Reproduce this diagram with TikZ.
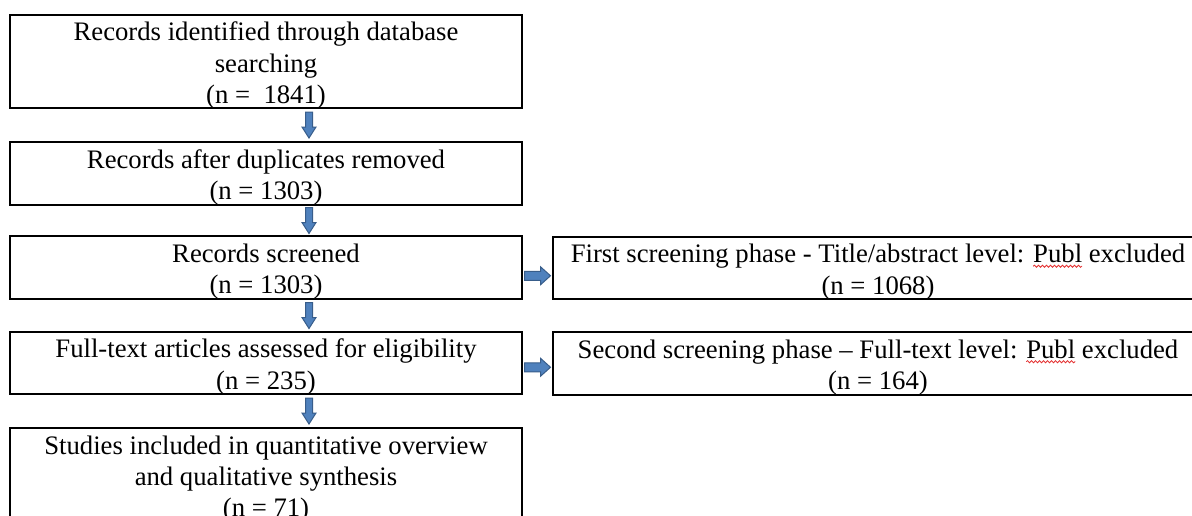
\documentclass[tikz,border=0pt]{standalone}
\usepackage{fontspec}
\setmainfont{Liberation Serif}
\usetikzlibrary{calc,decorations.pathmorphing}

\definecolor{arrowfill}{RGB}{79,129,189}
\definecolor{arrowline}{RGB}{56,93,138}
\definecolor{spellred}{RGB}{228,48,48}

% word with a red wavy spell-check underline
\newcommand\spellmark[1]{\tikz[baseline=(sw.base)]{%
  \node[rectangle,draw=none,fill=none,minimum width=0pt,minimum height=0pt,
        inner sep=0pt,outer sep=0pt] (sw) {#1};
  \draw[overlay,spellred,line width=0.4pt,decorate,
        decoration={snake,amplitude=0.55pt,segment length=2pt}]
        ([yshift=-1.7pt]sw.base west) -- ([yshift=-1.7pt]sw.base east);}}

\begin{document}
\begin{tikzpicture}[x=0.5pt,y=-0.5pt,
  box/.style={draw=black,line width=0.7pt,rectangle,inner sep=0pt},
  leftbox/.style={box,minimum width=256pt},
  rightbox/.style={box,minimum width=325pt},
  txt/.style={inner sep=0pt,align=center,font=\fontsize{13.35}{15.6}\selectfont},
  blockarrow/.style={fill=arrowfill,draw=arrowline,line width=0.5pt,line join=miter},
  darr/.pic={\draw[blockarrow] (-13,-3.5) -- (2,-3.5) -- (2,-7) -- (13,0) -- (2,7) -- (2,3.5) -- (-13,3.5) -- cycle;},
  rarr/.pic={\draw[blockarrow] (-13,-4.5) -- (3,-4.5) -- (3,-9) -- (13,0) -- (3,9) -- (3,4.5) -- (-13,4.5) -- cycle;}
]
\useasboundingbox (0,0) rectangle (1192,515);
\fill[white] (0,0) rectangle (1192,515);

% main column boxes
\node[leftbox,minimum height=46.5pt] (b1) at (266,61.5) {};
\node[leftbox,minimum height=31.5pt] (b2) at (266,173.5) {};
\node[leftbox,minimum height=31.5pt] (b3) at (266,267.5) {};
\node[leftbox,minimum height=31pt]   (b4) at (266,363) {};
\node[leftbox,minimum height=47pt]   (b5) at (266,475) {};

% exclusion column boxes
\node[rightbox,minimum height=31pt]   (r1) at (878,268) {};
\node[rightbox,minimum height=31.5pt] (r2) at (878,363.5) {};

% box texts
\node[txt] (t1) at ([yshift=-2pt]b1.center)
  {Records identified through database\\searching\\(n = \ 1841)};
\node[txt] (t2) at ([yshift=-2pt]b2.center)
  {Records after duplicates removed\\(n = 1303)};
\node[txt] (t3) at ([yshift=-2pt]b3.center)
  {Records screened\\(n = 1303)};
\node[txt] (t4) at ([yshift=-2pt]b4.center)
  {Full-text articles assessed for eligibility\\(n = 235)};
\node[txt] (t5) at ([yshift=-2pt]b5.center)
  {Studies included in quantitative overview\\and qualitative synthesis\\(n = 71)};
\node[txt] (s1) at ([yshift=-2pt]r1.center)
  {First screening phase - Title/abstract level: \spellmark{Publ} excluded\\(n = 1068)};
\node[txt] (s2) at ([yshift=-2pt]r2.center)
  {Second screening phase – Full-text level: \spellmark{Publ} excluded\\(n = 164)};

% downward flow arrows
\pic[rotate=-90] at ($($(b1.south)!0.5!(b2.north)$)+(43,0)$) {darr};
\pic[rotate=-90] at ($($(b2.south)!0.5!(b3.north)$)+(43,0)$) {darr};
\pic[rotate=-90] at ($($(b3.south)!0.5!(b4.north)$)+(43,0)$) {darr};
\pic[rotate=-90] at ($($(b4.south)!0.5!(b5.north)$)+(43,0)$) {darr};

% arrows to the exclusion boxes
\pic at ($($(b3.east)!0.5!(r1.west)$)+(0,8)$) {rarr};
\pic at ($($(b4.east)!0.5!(r2.west)$)+(0,4)$) {rarr};
\end{tikzpicture}
\end{document}
